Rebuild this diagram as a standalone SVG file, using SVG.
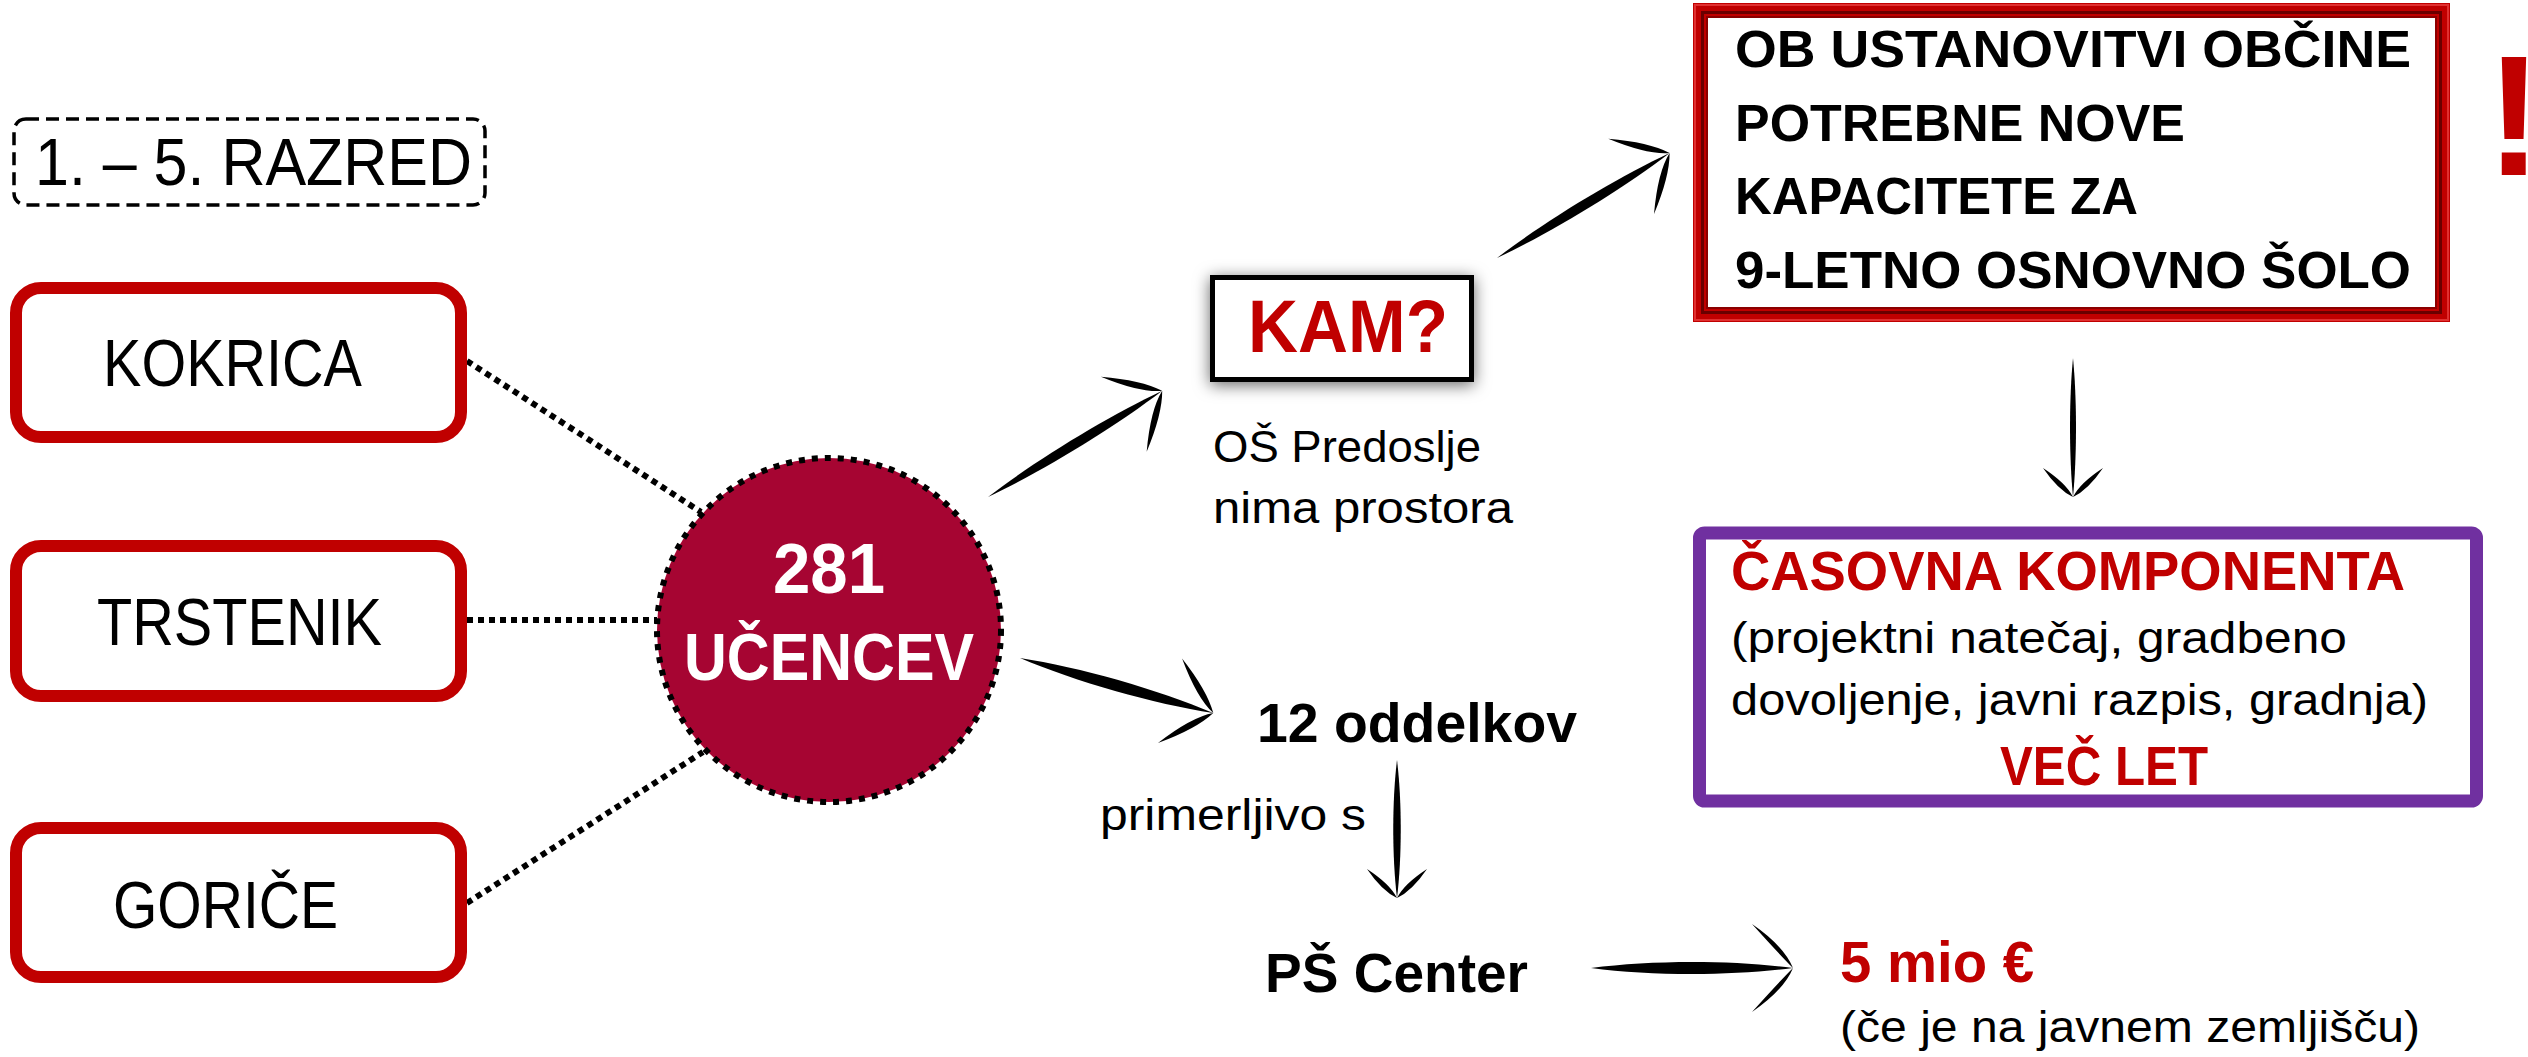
<svg xmlns="http://www.w3.org/2000/svg" width="2528" height="1057" viewBox="0 0 2528 1057">
<style>
text{font-family:"Liberation Sans",Arial,sans-serif;}
.n{font-size:44px;fill:#000;}
.big{font-size:67px;fill:#000;}
.b{font-weight:bold;}
.red{fill:#C00000;}
.place{fill:#fff;stroke:#C00000;stroke-width:12;}
.dot{stroke:#000;stroke-width:6;stroke-dasharray:6 5;fill:none;}
.ink{fill:#000;}
</style>
<defs>
<filter id="glow" x="-20%" y="-40%" width="140%" height="180%">
<feDropShadow dx="0" dy="3" stdDeviation="8" flood-color="#000" flood-opacity="0.6"/>
</filter>
</defs>
<g id="connectors">
<line class="dot" x1="467" y1="361" x2="701" y2="512"/>
<line class="dot" x1="467" y1="620" x2="657" y2="620"/>
<line class="dot" x1="467" y1="903" x2="703" y2="752"/>
<g class="ink" transform="translate(988,497) rotate(-31.35)">
<path d="M0,0 C61,-6.5 143,-6.5 204,0 C143,6.5 61,6.5 0,0 Z"/>
<path d="M204,0 Q184,-10 159,-44 Q192,-20 204,0 Z M204,0 Q184,10 159,44 Q192,20 204,0 Z"/>
</g>
<g class="ink" transform="translate(1497,258) rotate(-31.3)">
<path d="M0,0 C61,-6.5 141,-6.5 202,0 C141,6.5 61,6.5 0,0 Z"/>
<path d="M202,0 Q182,-10 157,-44 Q190,-20 202,0 Z M202,0 Q182,10 157,44 Q190,20 202,0 Z"/>
</g>
<g class="ink" transform="translate(1020,658) rotate(15.9)">
<path d="M0,0 C60,-7.5 141,-7.5 201,0 C141,7.5 60,7.5 0,0 Z"/>
<path d="M201,0 Q181,-10 156,-44 Q189,-20 201,0 Z M201,0 Q181,10 156,44 Q189,20 201,0 Z"/>
</g>
<g class="ink" transform="translate(1397,760) rotate(90)">
<path d="M0,0 C41,-5 97,-5 138,0 C97,5 41,5 0,0 Z"/>
<path d="M138,0 Q124,-7 109,-30 Q131,-15 138,0 Z M138,0 Q124,7 109,30 Q131,15 138,0 Z"/>
</g>
<g class="ink" transform="translate(2073,358) rotate(90)">
<path d="M0,0 C42,-4 97,-4 139,0 C97,4 42,4 0,0 Z"/>
<path d="M139,0 Q125,-7 110,-30 Q132,-15 139,0 Z M139,0 Q125,7 110,30 Q132,15 139,0 Z"/>
</g>
<g class="ink" transform="translate(1591,968)">
<path d="M0,0 C61,-8 141,-8 202,0 C141,8 61,8 0,0 Z"/>
<path d="M202,0 Q188,-14 161,-44 Q193,-22 202,0 Z M202,0 Q188,14 161,44 Q193,22 202,0 Z"/>
</g>
</g>
<g id="label-razred">
<rect x="14" y="119" width="471" height="86" rx="12" fill="#fff" stroke="#000" stroke-width="3.5" stroke-dasharray="13 7"/>
<text x="35" y="185" font-size="66" textLength="437" lengthAdjust="spacingAndGlyphs">1. – 5. RAZRED</text>
</g>
<g id="kokrica">
<rect class="place" x="16" y="288" width="445" height="149" rx="25"/>
<text class="big" x="103" y="386" textLength="259" lengthAdjust="spacingAndGlyphs">KOKRICA</text>
</g>
<g id="trstenik">
<rect class="place" x="16" y="546" width="445" height="150" rx="25"/>
<text class="big" x="97" y="645" textLength="285" lengthAdjust="spacingAndGlyphs">TRSTENIK</text>
</g>
<g id="gorice">
<rect class="place" x="16" y="828" width="445" height="149" rx="25"/>
<text class="big" x="113" y="928" textLength="225" lengthAdjust="spacingAndGlyphs">GORIČE</text>
</g>
<g id="ucenci">
<circle cx="829" cy="630" r="172" fill="#A60532" stroke="#000" stroke-width="6" stroke-dasharray="6 7"/>
<text class="b" x="829" y="593" font-size="70" fill="#fff" text-anchor="middle" textLength="112" lengthAdjust="spacingAndGlyphs">281</text>
<text class="b" x="829" y="680" font-size="67" fill="#fff" text-anchor="middle" textLength="290" lengthAdjust="spacingAndGlyphs">UČENCEV</text>
</g>
<g id="kam">
<rect x="1212.5" y="277.5" width="259" height="102" fill="#fff" stroke="#000" stroke-width="5" filter="url(#glow)"/>
<text class="b red" x="1248" y="352" font-size="75" textLength="200" lengthAdjust="spacingAndGlyphs">KAM?</text>
</g>
<g id="predoslje">
<text class="n" x="1213" y="462" textLength="268" lengthAdjust="spacingAndGlyphs">OŠ Predoslje</text>
<text class="n" x="1213" y="523" textLength="300" lengthAdjust="spacingAndGlyphs">nima prostora</text>
</g>
<g id="kapacitete">
<rect x="1700.5" y="10.5" width="742" height="304" fill="#fff" stroke="#C00000" stroke-width="15"/>
<rect x="1695" y="5" width="753" height="315" fill="none" stroke="#E03030" stroke-width="2"/>
<rect x="1702.5" y="12.5" width="738" height="300" fill="none" stroke="#6A0000" stroke-width="3"/>
<rect x="1707" y="17" width="729" height="291" fill="none" stroke="#8A0000" stroke-width="2"/>
<text class="b" x="1735" y="67" font-size="52" textLength="676" lengthAdjust="spacingAndGlyphs">OB USTANOVITVI OBČINE</text>
<text class="b" x="1735" y="141" font-size="52" textLength="450" lengthAdjust="spacingAndGlyphs">POTREBNE NOVE</text>
<text class="b" x="1735" y="214" font-size="52" textLength="403" lengthAdjust="spacingAndGlyphs">KAPACITETE ZA</text>
<text class="b" x="1735" y="288" font-size="52" textLength="676" lengthAdjust="spacingAndGlyphs">9-LETNO OSNOVNO ŠOLO</text>
</g>
<g id="klicaj">
<text class="b red" x="2514" y="175" font-size="170" text-anchor="middle">!</text>
</g>
<g id="casovna">
<rect x="1699.5" y="533" width="777" height="268" rx="5" fill="#fff" stroke="#7030A0" stroke-width="13"/>
<text class="b red" x="1731" y="590" font-size="56" textLength="674" lengthAdjust="spacingAndGlyphs">ČASOVNA KOMPONENTA</text>
<text class="n" x="1731" y="653" textLength="616" lengthAdjust="spacingAndGlyphs">(projektni natečaj, gradbeno</text>
<text class="n" x="1731" y="715" textLength="697" lengthAdjust="spacingAndGlyphs">dovoljenje, javni razpis, gradnja)</text>
<text class="b red" x="2000" y="785" font-size="56" textLength="208" lengthAdjust="spacingAndGlyphs">VEČ LET</text>
</g>
<g id="oddelki">
<text class="b" x="1257" y="742" font-size="56" textLength="320" lengthAdjust="spacingAndGlyphs">12 oddelkov</text>
</g>
<g id="primerljivo">
<text class="n" x="1100" y="830" textLength="266" lengthAdjust="spacingAndGlyphs">primerljivo s</text>
</g>
<g id="ps-center">
<text class="b" x="1265" y="992" font-size="56" textLength="263" lengthAdjust="spacingAndGlyphs">PŠ Center</text>
</g>
<g id="cena">
<text class="b red" x="1840" y="982" font-size="58" textLength="194" lengthAdjust="spacingAndGlyphs">5 mio €</text>
<text class="n" x="1840" y="1042" textLength="580" lengthAdjust="spacingAndGlyphs">(če je na javnem zemljišču)</text>
</g>
</svg>
